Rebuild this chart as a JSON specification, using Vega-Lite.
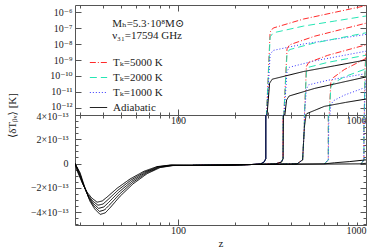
{
  "$schema": "https://vega.github.io/schema/vega-lite/v6.json",
  "padding": {"left": 5, "top": 4, "right": 0, "bottom": 0},
  "spacing": 0,
  "bounds": "flush",
  "config": {
    "view": {"stroke": "#555", "strokeWidth": 1},
    "font": "Liberation Serif, DejaVu Serif",
    "axis": {"domain": false, "grid": false, "labelFont": "Liberation Serif, DejaVu Serif", "labelFontSize": 10, "labelColor": "#222", "tickColor": "#555", "titleFont": "Liberation Serif, DejaVu Serif", "titleFontSize": 11, "titleFontWeight": "normal", "titleColor": "#222"}
  },
  "data": {"values": [
    {"c":"A0","t":"Adiabatic","z":28.3,"v":0},{"c":"A0","t":"Adiabatic","z":30.1,"v":-7.56e-14},{"c":"A0","t":"Adiabatic","z":32.0,"v":-2.02e-13},{"c":"A0","t":"Adiabatic","z":34.0,"v":-3.11e-13},{"c":"A0","t":"Adiabatic","z":36.0,"v":-3.74e-13},{"c":"A0","t":"Adiabatic","z":38.5,"v":-4.2e-13},{"c":"A0","t":"Adiabatic","z":41.0,"v":-4.07e-13},{"c":"A0","t":"Adiabatic","z":43.5,"v":-3.65e-13},{"c":"A0","t":"Adiabatic","z":49.2,"v":-2.69e-13},{"c":"A0","t":"Adiabatic","z":57.6,"v":-1.68e-13},{"c":"A0","t":"Adiabatic","z":68.4,"v":-8.4e-14},{"c":"A0","t":"Adiabatic","z":80.2,"v":-3.36e-14},{"c":"A0","t":"Adiabatic","z":94.1,"v":-1.68e-14},{"c":"A0","t":"Adiabatic","z":120,"v":-1.5e-14},{"c":"A0","t":"Adiabatic","z":180,"v":-1.3e-14},{"c":"A0","t":"Adiabatic","z":250,"v":-8e-15},{"c":"A0","t":"Adiabatic","z":275,"v":-3e-15},{"c":"A0","t":"Adiabatic","z":287,"v":1.2e-14},{"c":"A0","t":"Adiabatic","z":293,"v":4e-14},{"c":"A0","t":"Adiabatic","z":307,"v":3.548e-11},{"c":"A0","t":"Adiabatic","z":317,"v":6.31e-11},{"c":"A0","t":"Adiabatic","z":465,"v":1.905e-10},{"c":"A0","t":"Adiabatic","z":682,"v":4.365e-10},{"c":"A0","t":"Adiabatic","z":1000,"v":1e-9},
    {"c":"B0","t":"Adiabatic","z":28.3,"v":0},{"c":"B0","t":"Adiabatic","z":29.8,"v":-7.1e-14},{"c":"B0","t":"Adiabatic","z":31.7,"v":-1.9e-13},{"c":"B0","t":"Adiabatic","z":33.7,"v":-2.92e-13},{"c":"B0","t":"Adiabatic","z":35.7,"v":-3.51e-13},{"c":"B0","t":"Adiabatic","z":38.2,"v":-3.95e-13},{"c":"B0","t":"Adiabatic","z":40.6,"v":-3.83e-13},{"c":"B0","t":"Adiabatic","z":43.1,"v":-3.43e-13},{"c":"B0","t":"Adiabatic","z":48.8,"v":-2.53e-13},{"c":"B0","t":"Adiabatic","z":57.1,"v":-1.58e-13},{"c":"B0","t":"Adiabatic","z":67.8,"v":-7.9e-14},{"c":"B0","t":"Adiabatic","z":79.5,"v":-3.16e-14},{"c":"B0","t":"Adiabatic","z":93.3,"v":-1.58e-14},{"c":"B0","t":"Adiabatic","z":120,"v":-1.5e-14},{"c":"B0","t":"Adiabatic","z":180,"v":-1.3e-14},{"c":"B0","t":"Adiabatic","z":250,"v":-8e-15},{"c":"B0","t":"Adiabatic","z":330,"v":-3e-15},{"c":"B0","t":"Adiabatic","z":355,"v":1.2e-14},{"c":"B0","t":"Adiabatic","z":362,"v":4e-14},{"c":"B0","t":"Adiabatic","z":378,"v":3.16e-12},{"c":"B0","t":"Adiabatic","z":390,"v":5.62e-12},{"c":"B0","t":"Adiabatic","z":534,"v":1.683e-11},{"c":"B0","t":"Adiabatic","z":731,"v":3.83e-11},{"c":"B0","t":"Adiabatic","z":1000,"v":8.71e-11},
    {"c":"C0","t":"Adiabatic","z":28.3,"v":0},{"c":"C0","t":"Adiabatic","z":29.6,"v":-6.65e-14},{"c":"C0","t":"Adiabatic","z":31.4,"v":-1.78e-13},{"c":"C0","t":"Adiabatic","z":33.4,"v":-2.74e-13},{"c":"C0","t":"Adiabatic","z":35.4,"v":-3.29e-13},{"c":"C0","t":"Adiabatic","z":37.8,"v":-3.7e-13},{"c":"C0","t":"Adiabatic","z":40.3,"v":-3.58e-13},{"c":"C0","t":"Adiabatic","z":42.7,"v":-3.21e-13},{"c":"C0","t":"Adiabatic","z":48.3,"v":-2.37e-13},{"c":"C0","t":"Adiabatic","z":56.6,"v":-1.48e-13},{"c":"C0","t":"Adiabatic","z":67.2,"v":-7.4e-14},{"c":"C0","t":"Adiabatic","z":78.8,"v":-2.96e-14},{"c":"C0","t":"Adiabatic","z":92.4,"v":-1.48e-14},{"c":"C0","t":"Adiabatic","z":120,"v":-1.5e-14},{"c":"C0","t":"Adiabatic","z":180,"v":-1.3e-14},{"c":"C0","t":"Adiabatic","z":250,"v":-8e-15},{"c":"C0","t":"Adiabatic","z":430,"v":-3e-15},{"c":"C0","t":"Adiabatic","z":460,"v":3e-14},{"c":"C0","t":"Adiabatic","z":470,"v":3e-13},{"c":"C0","t":"Adiabatic","z":485,"v":4.5e-13},{"c":"C0","t":"Adiabatic","z":600,"v":1.26e-12},{"c":"C0","t":"Adiabatic","z":780,"v":2.24e-12},{"c":"C0","t":"Adiabatic","z":1000,"v":3.63e-12},
    {"c":"D0","t":"Adiabatic","z":28.3,"v":0},{"c":"D0","t":"Adiabatic","z":29.3,"v":-6.2e-14},{"c":"D0","t":"Adiabatic","z":31.1,"v":-1.66e-13},{"c":"D0","t":"Adiabatic","z":33.1,"v":-2.55e-13},{"c":"D0","t":"Adiabatic","z":35.0,"v":-3.07e-13},{"c":"D0","t":"Adiabatic","z":37.5,"v":-3.44e-13},{"c":"D0","t":"Adiabatic","z":39.9,"v":-3.34e-13},{"c":"D0","t":"Adiabatic","z":42.3,"v":-2.99e-13},{"c":"D0","t":"Adiabatic","z":47.9,"v":-2.2e-13},{"c":"D0","t":"Adiabatic","z":56.0,"v":-1.38e-13},{"c":"D0","t":"Adiabatic","z":66.6,"v":-6.9e-14},{"c":"D0","t":"Adiabatic","z":78.0,"v":-2.76e-14},{"c":"D0","t":"Adiabatic","z":91.6,"v":-1.38e-14},{"c":"D0","t":"Adiabatic","z":120,"v":-1.5e-14},{"c":"D0","t":"Adiabatic","z":180,"v":-1.3e-14},{"c":"D0","t":"Adiabatic","z":250,"v":-8e-15},{"c":"D0","t":"Adiabatic","z":600,"v":-3e-15},{"c":"D0","t":"Adiabatic","z":680,"v":6e-15},{"c":"D0","t":"Adiabatic","z":820,"v":1.6e-14},{"c":"D0","t":"Adiabatic","z":1000,"v":3e-14},
    {"c":"E0","t":"Adiabatic","z":28.3,"v":0},{"c":"E0","t":"Adiabatic","z":29.0,"v":-5.75e-14},{"c":"E0","t":"Adiabatic","z":30.8,"v":-1.53e-13},{"c":"E0","t":"Adiabatic","z":32.8,"v":-2.36e-13},{"c":"E0","t":"Adiabatic","z":34.7,"v":-2.84e-13},{"c":"E0","t":"Adiabatic","z":37.1,"v":-3.19e-13},{"c":"E0","t":"Adiabatic","z":39.5,"v":-3.09e-13},{"c":"E0","t":"Adiabatic","z":41.9,"v":-2.77e-13},{"c":"E0","t":"Adiabatic","z":47.4,"v":-2.04e-13},{"c":"E0","t":"Adiabatic","z":55.5,"v":-1.28e-13},{"c":"E0","t":"Adiabatic","z":65.9,"v":-6.4e-14},{"c":"E0","t":"Adiabatic","z":77.3,"v":-2.55e-14},{"c":"E0","t":"Adiabatic","z":90.7,"v":-1.28e-14},{"c":"E0","t":"Adiabatic","z":120,"v":-1.5e-14},{"c":"E0","t":"Adiabatic","z":180,"v":-1.3e-14},{"c":"E0","t":"Adiabatic","z":250,"v":-8e-15},{"c":"E0","t":"Adiabatic","z":940,"v":-3e-15},{"c":"E0","t":"Adiabatic","z":1000,"v":2e-15},
    {"c":"AR","t":"Tₖ=5000 K","z":120,"v":-1.5e-14},{"c":"AR","t":"Tₖ=5000 K","z":180,"v":-1.3e-14},{"c":"AR","t":"Tₖ=5000 K","z":250,"v":-8e-15},{"c":"AR","t":"Tₖ=5000 K","z":275,"v":-3e-15},{"c":"AR","t":"Tₖ=5000 K","z":287,"v":1.2e-14},{"c":"AR","t":"Tₖ=5000 K","z":293,"v":4e-14},{"c":"AR","t":"Tₖ=5000 K","z":309,"v":5.62e-8},{"c":"AR","t":"Tₖ=5000 K","z":321,"v":1e-7},{"c":"AR","t":"Tₖ=5000 K","z":465,"v":3.63e-7},{"c":"AR","t":"Tₖ=5000 K","z":682,"v":9.55e-7},{"c":"AR","t":"Tₖ=5000 K","z":1000,"v":2.51e-6},
    {"c":"AC","t":"Tₖ=2000 K","z":120,"v":-1.5e-14},{"c":"AC","t":"Tₖ=2000 K","z":180,"v":-1.3e-14},{"c":"AC","t":"Tₖ=2000 K","z":250,"v":-8e-15},{"c":"AC","t":"Tₖ=2000 K","z":275,"v":-3e-15},{"c":"AC","t":"Tₖ=2000 K","z":287,"v":1.2e-14},{"c":"AC","t":"Tₖ=2000 K","z":293,"v":4e-14},{"c":"AC","t":"Tₖ=2000 K","z":309,"v":2.818e-8},{"c":"AC","t":"Tₖ=2000 K","z":321,"v":5.01e-8},{"c":"AC","t":"Tₖ=2000 K","z":465,"v":1.318e-7},{"c":"AC","t":"Tₖ=2000 K","z":682,"v":2.72e-7},{"c":"AC","t":"Tₖ=2000 K","z":1000,"v":5.62e-7},
    {"c":"AB","t":"Tₖ=1000 K","z":120,"v":-1.5e-14},{"c":"AB","t":"Tₖ=1000 K","z":180,"v":-1.3e-14},{"c":"AB","t":"Tₖ=1000 K","z":250,"v":-8e-15},{"c":"AB","t":"Tₖ=1000 K","z":275,"v":-3e-15},{"c":"AB","t":"Tₖ=1000 K","z":287,"v":1.2e-14},{"c":"AB","t":"Tₖ=1000 K","z":293,"v":4e-14},{"c":"AB","t":"Tₖ=1000 K","z":309,"v":2.24e-9},{"c":"AB","t":"Tₖ=1000 K","z":321,"v":3.98e-9},{"c":"AB","t":"Tₖ=1000 K","z":465,"v":1e-8},{"c":"AB","t":"Tₖ=1000 K","z":682,"v":2e-8},{"c":"AB","t":"Tₖ=1000 K","z":1000,"v":3.98e-8},
    {"c":"BR","t":"Tₖ=5000 K","z":120,"v":-1.5e-14},{"c":"BR","t":"Tₖ=5000 K","z":180,"v":-1.3e-14},{"c":"BR","t":"Tₖ=5000 K","z":250,"v":-8e-15},{"c":"BR","t":"Tₖ=5000 K","z":330,"v":-3e-15},{"c":"BR","t":"Tₖ=5000 K","z":355,"v":1.2e-14},{"c":"BR","t":"Tₖ=5000 K","z":362,"v":4e-14},{"c":"BR","t":"Tₖ=5000 K","z":380,"v":5.01e-9},{"c":"BR","t":"Tₖ=5000 K","z":392,"v":8.91e-9},{"c":"BR","t":"Tₖ=5000 K","z":534,"v":3.09e-8},{"c":"BR","t":"Tₖ=5000 K","z":731,"v":7.85e-8},{"c":"BR","t":"Tₖ=5000 K","z":1000,"v":2e-7},
    {"c":"BC","t":"Tₖ=2000 K","z":120,"v":-1.5e-14},{"c":"BC","t":"Tₖ=2000 K","z":180,"v":-1.3e-14},{"c":"BC","t":"Tₖ=2000 K","z":250,"v":-8e-15},{"c":"BC","t":"Tₖ=2000 K","z":330,"v":-3e-15},{"c":"BC","t":"Tₖ=2000 K","z":355,"v":1.2e-14},{"c":"BC","t":"Tₖ=2000 K","z":362,"v":4e-14},{"c":"BC","t":"Tₖ=2000 K","z":380,"v":2.51e-9},{"c":"BC","t":"Tₖ=2000 K","z":392,"v":4.47e-9},{"c":"BC","t":"Tₖ=2000 K","z":534,"v":1.175e-8},{"c":"BC","t":"Tₖ=2000 K","z":731,"v":2.43e-8},{"c":"BC","t":"Tₖ=2000 K","z":1000,"v":5.01e-8},
    {"c":"BB","t":"Tₖ=1000 K","z":120,"v":-1.5e-14},{"c":"BB","t":"Tₖ=1000 K","z":180,"v":-1.3e-14},{"c":"BB","t":"Tₖ=1000 K","z":250,"v":-8e-15},{"c":"BB","t":"Tₖ=1000 K","z":330,"v":-3e-15},{"c":"BB","t":"Tₖ=1000 K","z":355,"v":1.2e-14},{"c":"BB","t":"Tₖ=1000 K","z":362,"v":4e-14},{"c":"BB","t":"Tₖ=1000 K","z":380,"v":2e-10},{"c":"BB","t":"Tₖ=1000 K","z":392,"v":3.55e-10},{"c":"BB","t":"Tₖ=1000 K","z":534,"v":8.91e-10},{"c":"BB","t":"Tₖ=1000 K","z":731,"v":1.778e-9},{"c":"BB","t":"Tₖ=1000 K","z":1000,"v":3.55e-9},
    {"c":"CR","t":"Tₖ=5000 K","z":120,"v":-1.5e-14},{"c":"CR","t":"Tₖ=5000 K","z":180,"v":-1.3e-14},{"c":"CR","t":"Tₖ=5000 K","z":250,"v":-8e-15},{"c":"CR","t":"Tₖ=5000 K","z":430,"v":-3e-15},{"c":"CR","t":"Tₖ=5000 K","z":460,"v":3e-14},{"c":"CR","t":"Tₖ=5000 K","z":470,"v":3e-13},{"c":"CR","t":"Tₖ=5000 K","z":482,"v":3.98e-10},{"c":"CR","t":"Tₖ=5000 K","z":496,"v":7.08e-10},{"c":"CR","t":"Tₖ=5000 K","z":625,"v":1.95e-9},{"c":"CR","t":"Tₖ=5000 K","z":790,"v":4.17e-9},{"c":"CR","t":"Tₖ=5000 K","z":1000,"v":8.91e-9},
    {"c":"CC","t":"Tₖ=2000 K","z":120,"v":-1.5e-14},{"c":"CC","t":"Tₖ=2000 K","z":180,"v":-1.3e-14},{"c":"CC","t":"Tₖ=2000 K","z":250,"v":-8e-15},{"c":"CC","t":"Tₖ=2000 K","z":430,"v":-3e-15},{"c":"CC","t":"Tₖ=2000 K","z":460,"v":3e-14},{"c":"CC","t":"Tₖ=2000 K","z":470,"v":3e-13},{"c":"CC","t":"Tₖ=2000 K","z":482,"v":2e-10},{"c":"CC","t":"Tₖ=2000 K","z":496,"v":3.55e-10},{"c":"CC","t":"Tₖ=2000 K","z":625,"v":7.08e-10},{"c":"CC","t":"Tₖ=2000 K","z":790,"v":1.19e-9},{"c":"CC","t":"Tₖ=2000 K","z":1000,"v":2e-9},
    {"c":"CB","t":"Tₖ=1000 K","z":120,"v":-1.5e-14},{"c":"CB","t":"Tₖ=1000 K","z":180,"v":-1.3e-14},{"c":"CB","t":"Tₖ=1000 K","z":250,"v":-8e-15},{"c":"CB","t":"Tₖ=1000 K","z":430,"v":-3e-15},{"c":"CB","t":"Tₖ=1000 K","z":460,"v":3e-14},{"c":"CB","t":"Tₖ=1000 K","z":470,"v":3e-13},{"c":"CB","t":"Tₖ=1000 K","z":482,"v":1.585e-11},{"c":"CB","t":"Tₖ=1000 K","z":496,"v":2.82e-11},{"c":"CB","t":"Tₖ=1000 K","z":625,"v":5.37e-11},{"c":"CB","t":"Tₖ=1000 K","z":790,"v":8.71e-11},{"c":"CB","t":"Tₖ=1000 K","z":1000,"v":1.413e-10},
    {"c":"DR","t":"Tₖ=5000 K","z":600,"v":-4e-15},{"c":"DR","t":"Tₖ=5000 K","z":630,"v":3e-14},{"c":"DR","t":"Tₖ=5000 K","z":650,"v":3.98e-11},{"c":"DR","t":"Tₖ=5000 K","z":670,"v":7.94e-11},{"c":"DR","t":"Tₖ=5000 K","z":766,"v":2.51e-10},{"c":"DR","t":"Tₖ=5000 K","z":875,"v":5.62e-10},{"c":"DR","t":"Tₖ=5000 K","z":1000,"v":1.26e-9},
    {"c":"DC","t":"Tₖ=2000 K","z":600,"v":-4e-15},{"c":"DC","t":"Tₖ=2000 K","z":630,"v":3e-14},{"c":"DC","t":"Tₖ=2000 K","z":650,"v":2e-11},{"c":"DC","t":"Tₖ=2000 K","z":670,"v":3.55e-11},{"c":"DC","t":"Tₖ=2000 K","z":766,"v":8.91e-11},{"c":"DC","t":"Tₖ=2000 K","z":875,"v":1.585e-10},{"c":"DC","t":"Tₖ=2000 K","z":1000,"v":2.82e-10},
    {"c":"DB","t":"Tₖ=1000 K","z":600,"v":-4e-15},{"c":"DB","t":"Tₖ=1000 K","z":630,"v":3e-14},{"c":"DB","t":"Tₖ=1000 K","z":650,"v":1.585e-12},{"c":"DB","t":"Tₖ=1000 K","z":670,"v":2.82e-12},{"c":"DB","t":"Tₖ=1000 K","z":766,"v":6.31e-12},{"c":"DB","t":"Tₖ=1000 K","z":875,"v":1.122e-11},{"c":"DB","t":"Tₖ=1000 K","z":1000,"v":2e-11},
    {"c":"ER","t":"Tₖ=5000 K","z":940,"v":-4e-15},{"c":"ER","t":"Tₖ=5000 K","z":975,"v":3e-14},{"c":"ER","t":"Tₖ=5000 K","z":988,"v":3.16e-10},{"c":"ER","t":"Tₖ=5000 K","z":1000,"v":2.51e-9},
    {"c":"EC","t":"Tₖ=2000 K","z":940,"v":-4e-15},{"c":"EC","t":"Tₖ=2000 K","z":975,"v":3e-14},{"c":"EC","t":"Tₖ=2000 K","z":988,"v":1.585e-10},{"c":"EC","t":"Tₖ=2000 K","z":1000,"v":1e-9},
    {"c":"EB","t":"Tₖ=1000 K","z":940,"v":-4e-15},{"c":"EB","t":"Tₖ=1000 K","z":975,"v":3e-14},{"c":"EB","t":"Tₖ=1000 K","z":988,"v":1.26e-11},{"c":"EB","t":"Tₖ=1000 K","z":1000,"v":6.31e-11}
  ]},
  "resolve": {"scale": {"x": "independent", "y": "independent", "color": "independent", "strokeDash": "independent"}, "legend": {"color": "independent", "strokeDash": "independent"}},
  "vconcat": [
    {
      "width": 291, "height": 110,
      "transform": [{"filter": "datum.v > 0"}],
      "layer": [
        {
          "transform": [{"filter": "datum.t != 'Adiabatic'"}],
          "mark": {"type": "line", "clip": true, "strokeWidth": 1},
          "encoding": {
            "x": {"field": "z", "type": "quantitative", "scale": {"type": "log", "domain": [28.3, 1000], "nice": false},
                  "axis": {"orient": "bottom", "values": [30,40,50,60,70,80,90,100,200,300,400,500,600,700,800,900,1000], "labelExpr": "datum.value == 100 || datum.value == 1000 ? datum.label : ''", "format": "d", "tickSize": {"condition": {"test": "datum.value == 100 || datum.value == 1000", "value": -6}, "value": -3}, "labelPadding": 6, "title": null}},
            "y": {"field": "v", "type": "quantitative", "scale": {"type": "log", "domain": [3.65e-13, 2.74e-6], "nice": false},
                  "axis": {"orient": "left", "values": [1e-12,1e-11,1e-10,1e-9,1e-8,1e-7,1e-6], "labelExpr": "'10' + ['⁻¹²','⁻¹¹','⁻¹⁰','⁻⁹','⁻⁸','⁻⁷','⁻⁶'][round(log(datum.value)/LN10) + 12]", "tickSize": -6, "labelPadding": 9, "labelOffset": {"condition": {"test": "datum.value < 2e-12", "value": -1.5}, "value": 0}, "title": "⟨δTᵦᵥ⟩ [K]", "titleX": -58, "titleY": 110}},
            "color": {"field": "t", "type": "nominal", "scale": {"domain": ["Tₖ=5000 K", "Tₖ=2000 K", "Tₖ=1000 K", "Adiabatic"], "range": ["#ff2a2a", "#26e6b4", "#3535ff", "#000000"]},
                      "legend": {"orient": "none", "legendX": 14, "legendY": 48, "title": null, "symbolType": "stroke", "symbolSize": 300, "symbolStrokeWidth": 1, "labelFont": "Liberation Serif, DejaVu Serif", "labelFontSize": 11, "labelColor": "#222", "labelOffset": 5, "rowPadding": -8}},
            "strokeDash": {"field": "t", "type": "nominal", "scale": {"domain": ["Tₖ=5000 K", "Tₖ=2000 K", "Tₖ=1000 K", "Adiabatic"], "range": [[6,2,1,2],[7,4],[1,2],[1,0]]},
                      "legend": {"orient": "none", "legendX": 14, "legendY": 48, "title": null, "symbolType": "stroke", "symbolSize": 300, "symbolStrokeWidth": 1, "labelFont": "Liberation Serif, DejaVu Serif", "labelFontSize": 11, "labelColor": "#222", "labelOffset": 5, "rowPadding": -8}},
            "detail": {"field": "c"}
          }
        },
        {
          "transform": [{"filter": "datum.t == 'Adiabatic'"}],
          "mark": {"type": "line", "clip": true, "strokeWidth": 1},
          "encoding": {
            "x": {"field": "z", "type": "quantitative", "axis": {"orient": "top", "values": [30,40,50,60,70,80,90,100,200,300,400,500,600,700,800,900,1000], "labels": false, "tickSize": {"condition": {"test": "datum.value == 100 || datum.value == 1000", "value": -6}, "value": -3}, "title": null}},
            "y": {"field": "v", "type": "quantitative", "axis": {"orient": "right", "values": [1e-12,1e-11,1e-10,1e-9,1e-8,1e-7,1e-6], "labels": false, "tickSize": -6, "title": null}},
            "color": {"field": "t", "type": "nominal"},
            "strokeDash": {"field": "t", "type": "nominal"},
            "detail": {"field": "c"}
          }
        },
        {
          "data": {"values": [{"note": "Mₕ=5.3·10⁸M⊙\nν₃₁=17594 GHz"}]},
          "mark": {"type": "text", "align": "left", "baseline": "top", "lineBreak": "\n", "lineHeight": 12.5, "font": "Liberation Serif, DejaVu Serif", "fontSize": 11, "color": "#222"},
          "encoding": {
            "x": {"datum": 44.6, "type": "quantitative", "axis": null},
            "y": {"datum": 4.53e-7, "type": "quantitative", "axis": null},
            "text": {"field": "note"}
          }
        }
      ],
      "resolve": {"axis": {"x": "independent", "y": "independent"}}
    },
    {
      "width": 291, "height": 110,
      "layer": [
        {
          "transform": [{"filter": "datum.t != 'Adiabatic'"}],
          "mark": {"type": "line", "clip": true, "strokeWidth": 1},
          "encoding": {
            "x": {"field": "z", "type": "quantitative", "scale": {"type": "log", "domain": [28.3, 1000], "nice": false},
                  "axis": {"orient": "bottom", "values": [30,40,50,60,70,80,90,100,200,300,400,500,600,700,800,900,1000], "labelExpr": "datum.value == 100 || datum.value == 1000 ? datum.label : ''", "format": "d", "tickSize": {"condition": {"test": "datum.value == 100 || datum.value == 1000", "value": -6}, "value": -3}, "labelPadding": 6, "title": "z", "titlePadding": 2}},
            "y": {"field": "v", "type": "quantitative", "scale": {"domain": [-5.07e-13, 4e-13], "nice": false, "zero": false},
                  "axis": {"orient": "left", "values": [-5e-13,-4.5e-13,-4e-13,-3.5e-13,-3e-13,-2.5e-13,-2e-13,-1.5e-13,-1e-13,-5e-14,0,5e-14,1e-13,1.5e-13,2e-13,2.5e-13,3e-13,3.5e-13,4e-13],
                           "labelExpr": "abs(datum.value) < 1e-16 ? '0' : (abs(datum.value*5e12 - round(datum.value*5e12)) < 0.01 ? (datum.value < 0 ? '−' : '') + format(abs(datum.value*1e13), '.0f') + '×10⁻¹³' : '')",
                           "labelOffset": {"condition": {"test": "datum.value > 3.9e-13", "value": 1.5}, "value": 0},
                           "tickSize": {"condition": {"test": "abs(datum.value*5e12 - round(datum.value*5e12)) < 0.01", "value": -6}, "value": -3}, "labelPadding": 13, "title": null}},
            "color": {"field": "t", "type": "nominal", "scale": {"domain": ["Tₖ=5000 K", "Tₖ=2000 K", "Tₖ=1000 K", "Adiabatic"], "range": ["#ff2a2a", "#26e6b4", "#3535ff", "#000000"]}, "legend": null},
            "strokeDash": {"field": "t", "type": "nominal", "scale": {"domain": ["Tₖ=5000 K", "Tₖ=2000 K", "Tₖ=1000 K", "Adiabatic"], "range": [[6,2,1,2],[7,4],[1,2],[1,0]]}, "legend": null},
            "detail": {"field": "c"}
          }
        },
        {
          "transform": [{"filter": "datum.t == 'Adiabatic'"}],
          "mark": {"type": "line", "clip": true, "strokeWidth": 1},
          "encoding": {
            "x": {"field": "z", "type": "quantitative", "axis": {"orient": "top", "values": [30,40,50,60,70,80,90,100,200,300,400,500,600,700,800,900,1000], "labels": false, "tickSize": {"condition": {"test": "datum.value == 100 || datum.value == 1000", "value": -6}, "value": -3}, "title": null}},
            "y": {"field": "v", "type": "quantitative", "axis": {"orient": "right", "values": [-5e-13,-4.5e-13,-4e-13,-3.5e-13,-3e-13,-2.5e-13,-2e-13,-1.5e-13,-1e-13,-5e-14,0,5e-14,1e-13,1.5e-13,2e-13,2.5e-13,3e-13,3.5e-13,4e-13], "labels": false, "tickSize": {"condition": {"test": "abs(datum.value*5e12 - round(datum.value*5e12)) < 0.01", "value": -6}, "value": -3}, "title": null}},
            "color": {"field": "t", "type": "nominal", "legend": null},
            "strokeDash": {"field": "t", "type": "nominal", "legend": null},
            "detail": {"field": "c"}
          }
        }
      ],
      "resolve": {"axis": {"x": "independent", "y": "independent"}}
    }
  ]
}
